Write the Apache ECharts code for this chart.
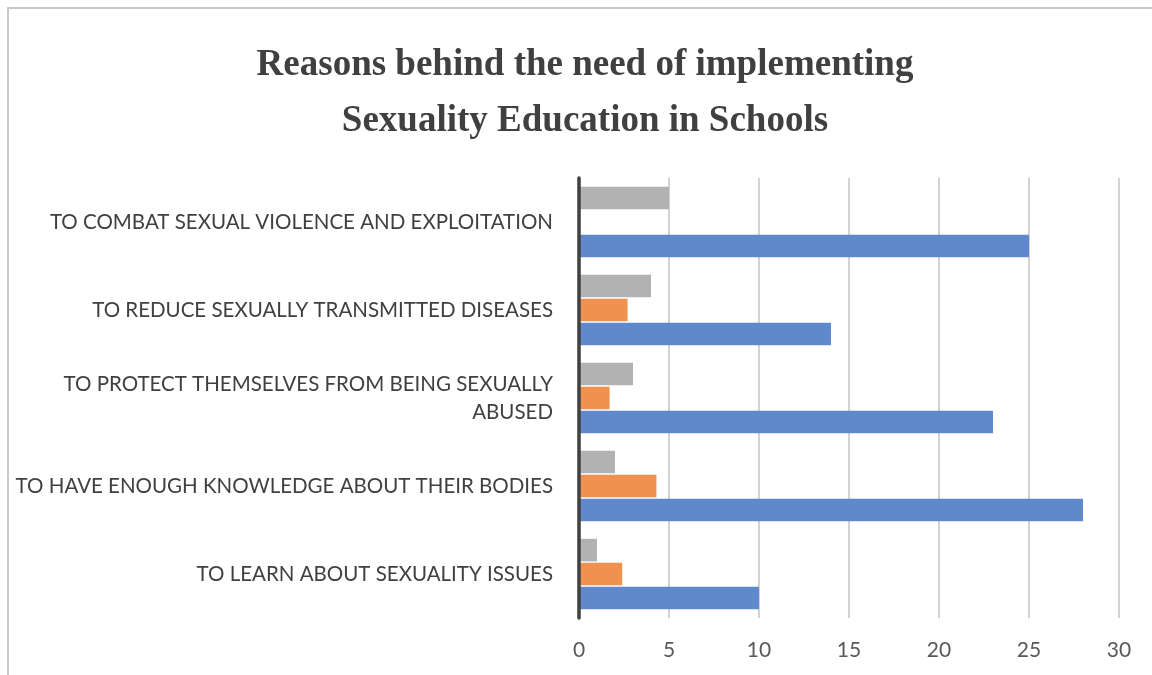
<!DOCTYPE html>
<html>
<head>
<meta charset="utf-8">
<script src="https://cdn.jsdelivr.net/npm/echarts@6/dist/echarts.min.js"></script>
<style>
html,body{margin:0;padding:0;background:#fff;}
#frame{position:absolute;left:7px;top:7px;width:1200px;height:700px;border-left:2px solid #c8c8c8;border-top:2px solid #c8c8c8;}
#chart{position:absolute;left:0;top:0;width:1152px;height:675px;}
</style>
</head>
<body>
<div id="frame"></div>
<div id="chart"></div>
<script>
const titleLines = ['Reasons behind the need of implementing', 'Sexuality Education in Schools'];
const categories = [
  'TO LEARN ABOUT SEXUALITY ISSUES',
  'TO HAVE ENOUGH KNOWLEDGE ABOUT THEIR BODIES',
  'TO PROTECT THEMSELVES FROM BEING SEXUALLY\nABUSED',
  'TO REDUCE SEXUALLY TRANSMITTED DISEASES',
  'TO COMBAT SEXUAL VIOLENCE AND EXPLOITATION'
];
const blueValues = [10, 28, 23, 14, 25];
const orangeValues = [2.4, 4.3, 1.7, 2.7, 0];
const grayValues = [1, 2, 3, 4, 5];
const xTicks = [0, 5, 10, 15, 20, 25, 30];

const chart = echarts.init(document.getElementById('chart'), null, {renderer: 'canvas'});
chart.setOption({
  backgroundColor: 'transparent',
  animation: false,
  graphic: [
    {type: 'text', x: 585, y: 65, silent: true,
     style: {text: titleLines[0], fill: '#404040', font: 'bold 37px "Liberation Serif"', textAlign: 'center', textVerticalAlign: 'middle'}},
    {type: 'text', x: 585, y: 121, silent: true,
     style: {text: titleLines[1], fill: '#404040', font: 'bold 37px "Liberation Serif"', textAlign: 'center', textVerticalAlign: 'middle'}}
  ],
  grid: {left: 579, right: 33, top: 178, bottom: 57, containLabel: false},
  xAxis: {
    type: 'value', min: xTicks[0], max: xTicks[xTicks.length - 1], interval: 5,
    axisLine: {show: false}, axisTick: {show: false},
    axisLabel: {color: '#595959', fontSize: 21, fontFamily: 'Lato', margin: 22},
    splitLine: {show: true, lineStyle: {color: '#c4c4c4', width: 1.5}}
  },
  yAxis: {
    type: 'category', data: categories, z: 5,
    axisLine: {show: true, lineStyle: {color: '#404040', width: 3.5}},
    axisTick: {show: false},
    axisLabel: {color: '#404040', fontSize: 20.5, fontFamily: 'Lato', margin: 26, lineHeight: 28, align: 'right'}
  },
  series: [
    {type: 'bar', data: grayValues, itemStyle: {color: '#b2b2b2'}, barCategoryGap: '20%', barGap: '6%'},
    {type: 'bar', data: orangeValues, itemStyle: {color: '#ef9250'}, barGap: '6%'},
    {type: 'bar', data: blueValues, itemStyle: {color: '#6088cc'}, barGap: '6%'}
  ]
});
</script>
</body>
</html>
